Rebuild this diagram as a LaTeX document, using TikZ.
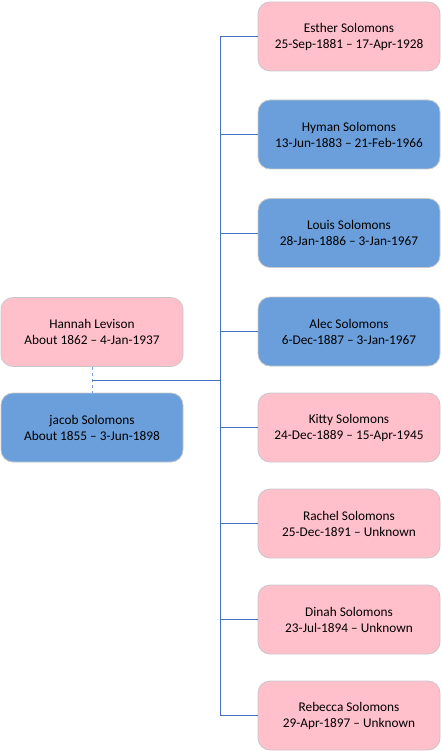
\documentclass[tikz,border=0pt]{standalone}
\usepackage{fontspec}
\setmainfont{Carlito}
\definecolor{pinkbox}{RGB}{255,192,203}
\definecolor{bluebox}{RGB}{106,159,219}
\definecolor{boxedge}{RGB}{200,200,200}
\definecolor{linkblue}{RGB}{68,114,196}
\begin{document}
\begin{tikzpicture}[x=1pt,y=-1pt,
  person/.style={draw=boxedge,line width=0.8pt,rounded corners=12pt,minimum width=182pt,minimum height=69pt,align=center,font=\fontsize{13.3}{16}\selectfont,inner sep=0pt},
  female/.style={person,fill=pinkbox},
  male/.style={person,fill=bluebox},
  link/.style={draw=linkblue,line width=0.9pt}]
\useasboundingbox (0,0) rectangle (441,751);
\node[female] (hannah) at (92,332) {Hannah Levison\\About 1862 – 4-Jan-1937};
\node[male] (jacob) at (92,427.5) {jacob Solomons\\About 1855 – 3-Jun-1898};
\node[female] (c1) at (349,36.5) {Esther Solomons\\25-Sep-1881 – 17-Apr-1928};
\node[male] (c2) at (349,134.5) {Hyman Solomons\\13-Jun-1883 – 21-Feb-1966};
\node[male] (c3) at (349,233) {Louis Solomons\\28-Jan-1886 – 3-Jan-1967};
\node[male] (c4) at (349,331.5) {Alec Solomons\\6-Dec-1887 – 3-Jan-1967};
\node[female] (c5) at (349,427.5) {Kitty Solomons\\24-Dec-1889 – 15-Apr-1945};
\node[female] (c6) at (349,523.5) {Rachel Solomons\\25-Dec-1891 – Unknown};
\node[female] (c7) at (349,619.5) {Dinah Solomons\\23-Jul-1894 – Unknown};
\node[female] (c8) at (349,715.5) {Rebecca Solomons\\29-Apr-1897 – Unknown};
\draw[link,dashed,draw=linkblue!70] (hannah.south) -- (jacob.north);
\coordinate (j) at (92,380);
\coordinate (bj) at (220,380);
\coordinate (btop) at (220,36.5);
\coordinate (bbot) at (220,715.5);
\draw[link] (j) -- (bj);
\draw[link] (btop) -- (bbot);
\foreach \c in {c1,c2,c3,c4,c5,c6,c7,c8}{
  \draw[link] (\c.west -| btop) -- (\c.west);
}
\end{tikzpicture}
\end{document}
